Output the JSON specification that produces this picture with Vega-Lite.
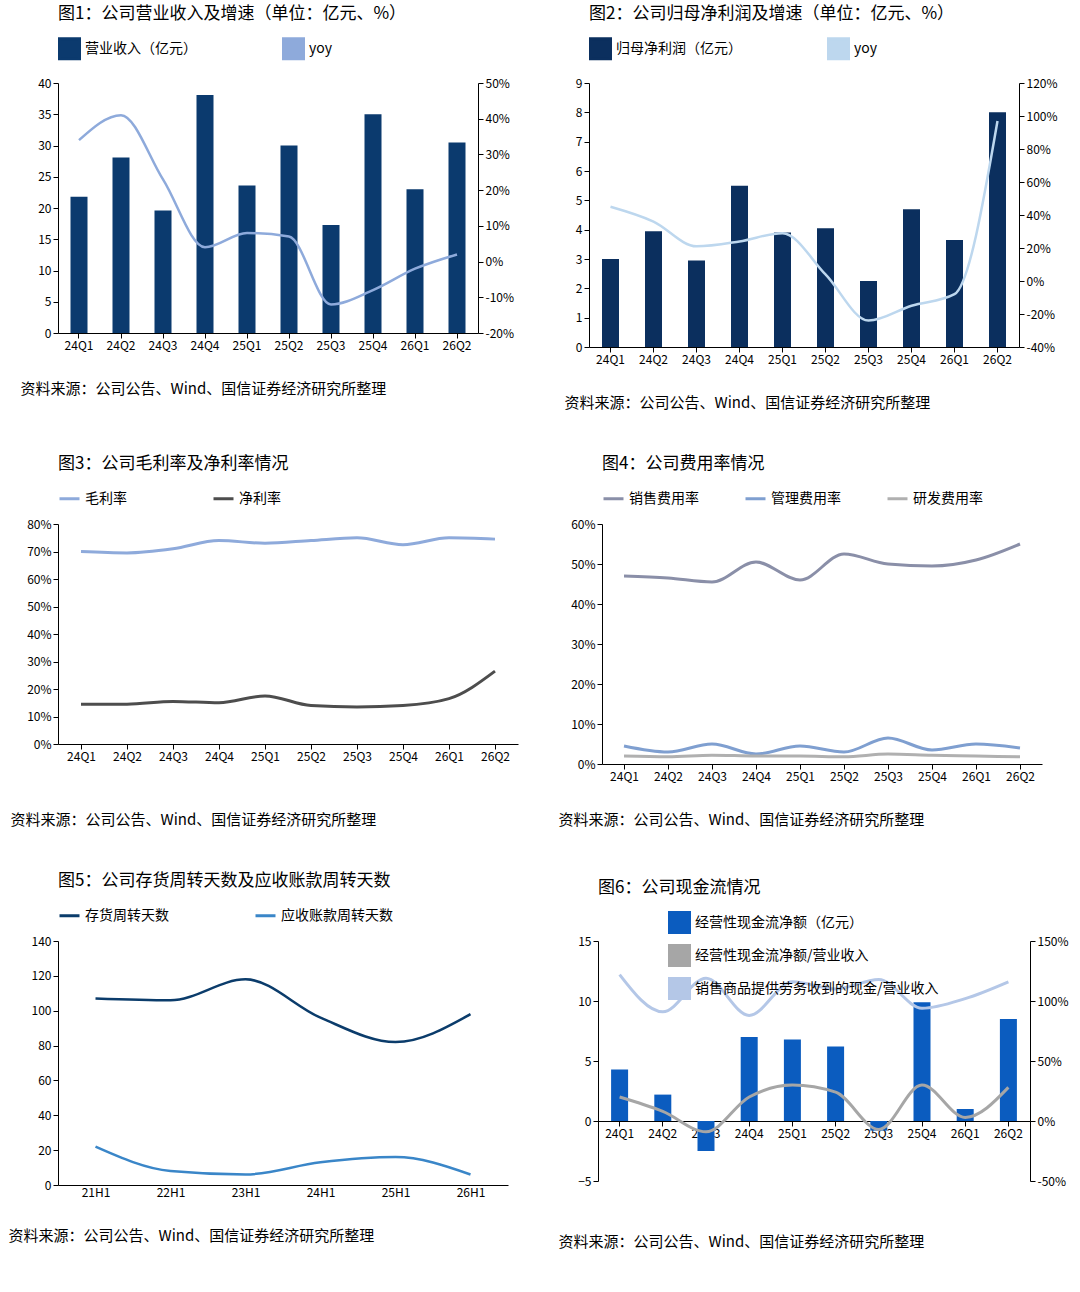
{
"$schema":"https://vega.github.io/schema/vega-lite/v6.json",
"background":"white",
"padding":{"left":8,"top":5,"right":5,"bottom":5},
"config":{"font":"Noto Sans CJK SC","view":{"stroke":null},
 "axis":{"grid":false,"domainColor":"#000","tickColor":"#000","labelColor":"#000","labelFontSize":12,"labelFont":"Noto Sans CJK SC","titleFontWeight":"normal","titleFontSize":15},
 "legend":{"orient":"top","direction":"horizontal","labelFontSize":14,"title":null,"columnPadding":80,"symbolStrokeWidth":3,"symbolSize":400},
 "title":{"anchor":"start","frame":"group","fontSize":17,"fontWeight":"normal","offset":14}},
"datasets":{
"q":[
{"q":"24Q1","rev":21.8,"ry":34,"np":3.0,"ny":45,"gm":70,"nm":14.5,"s":47,"a":4.5,"r":2.0,"cf":4.3,"c1":20,"c2":122},
{"q":"24Q2","rev":28.1,"ry":41,"np":3.95,"ny":36,"gm":69.5,"nm":14.5,"s":46.5,"a":3.0,"r":1.8,"cf":2.2,"c1":8,"c2":91},
{"q":"24Q3","rev":19.6,"ry":23,"np":2.95,"ny":21,"gm":71,"nm":15.5,"s":45.5,"a":5.0,"r":2.2,"cf":-2.5,"c1":-9,"c2":119},
{"q":"24Q4","rev":38.1,"ry":4,"np":5.5,"ny":24,"gm":74,"nm":15,"s":50.5,"a":2.5,"r":2.0,"cf":7.0,"c1":20,"c2":88},
{"q":"25Q1","rev":23.6,"ry":8,"np":3.9,"ny":29,"gm":73,"nm":17.5,"s":46,"a":4.5,"r":2.0,"cf":6.8,"c1":30,"c2":116},
{"q":"25Q2","rev":30.0,"ry":7,"np":4.05,"ny":4,"gm":74,"nm":14,"s":52.5,"a":3.0,"r":1.8,"cf":6.2,"c1":24,"c2":110},
{"q":"25Q3","rev":17.3,"ry":-12,"np":2.25,"ny":-24,"gm":75,"nm":13.5,"s":50,"a":6.5,"r":2.5,"cf":-0.8,"c1":-7,"c2":118},
{"q":"25Q4","rev":35.0,"ry":-8,"np":4.7,"ny":-15,"gm":72.5,"nm":14,"s":49.5,"a":3.5,"r":2.2,"cf":9.9,"c1":30,"c2":94},
{"q":"26Q1","rev":23.0,"ry":-2,"np":3.65,"ny":-8,"gm":75,"nm":16.5,"s":51,"a":5.0,"r":2.0,"cf":1.0,"c1":3,"c2":102},
{"q":"26Q2","rev":30.5,"ry":2,"np":8.0,"ny":97,"gm":74.5,"nm":26.5,"s":55,"a":4.0,"r":1.8,"cf":8.5,"c1":28,"c2":116}],
"h":[
{"h":"21H1","inv":107,"ar":22},{"h":"22H1","inv":106,"ar":8},{"h":"23H1","inv":118,"ar":6},
{"h":"24H1","inv":96,"ar":13},{"h":"25H1","inv":82,"ar":16},{"h":"26H1","inv":98,"ar":6}]},
"resolve":{"scale":{"color":"independent"},"legend":{"color":"independent"}},
"vconcat":[
{"resolve":{"scale":{"color":"independent"},"legend":{"color":"independent"}},
"hconcat":[
{"width":420,"height":250,"data":{"name":"q"},
 "title":"图1：公司营业收入及增速（单位：亿元、%）",
 "encoding":{"x":{"field":"q","type":"ordinal","sort":null,"axis":{"labelAngle":0,"title":"资料来源：公司公告、Wind、国信证券经济研究所整理","titleAnchor":"start","titleX":-38,"titlePadding":30}}},
 "layer":[
  {"mark":{"type":"bar","width":17},"encoding":{"y":{"field":"rev","type":"quantitative","scale":{"domain":[0,40]},"axis":{"title":null,"tickCount":8}},
   "color":{"datum":"营业收入（亿元）","scale":{"domain":["营业收入（亿元）","yoy"],"range":["#0b3a6e","#8eaadb"]}}}},
  {"mark":{"type":"line","interpolate":"monotone","strokeWidth":2.5},"encoding":{"y":{"field":"ry","type":"quantitative","scale":{"domain":[-20,50]},"axis":{"orient":"right","title":null,"tickCount":7,"labelExpr":"datum.value+'%'"}},"color":{"datum":"yoy"}}}],
 "resolve":{"scale":{"y":"independent"}}},
{"width":430,"height":264,"data":{"name":"q"},
 "title":"图2：公司归母净利润及增速（单位：亿元、%）",
 "encoding":{"x":{"field":"q","type":"ordinal","sort":null,"axis":{"labelAngle":0,"title":"资料来源：公司公告、Wind、国信证券经济研究所整理","titleAnchor":"start","titleX":-25,"titlePadding":30}}},
 "layer":[
  {"mark":{"type":"bar","width":17},"encoding":{"y":{"field":"np","type":"quantitative","scale":{"domain":[0,9]},"axis":{"title":null,"tickCount":9}},
   "color":{"datum":"归母净利润（亿元）","scale":{"domain":["归母净利润（亿元）","yoy"],"range":["#0b2f5e","#bdd7ee"]}}}},
  {"mark":{"type":"line","interpolate":"monotone","strokeWidth":2.5},"encoding":{"y":{"field":"ny","type":"quantitative","scale":{"domain":[-40,120]},"axis":{"orient":"right","title":null,"tickCount":8,"labelExpr":"datum.value+'%'"}},"color":{"datum":"yoy"}}}],
 "resolve":{"scale":{"y":"independent"}}}
],"spacing":50},
{"resolve":{"scale":{"color":"independent"},"legend":{"color":"independent"}},
"hconcat":[
{"width":460,"height":220,"data":{"name":"q"},
 "title":"图3：公司毛利率及净利率情况",
 "encoding":{"x":{"field":"q","type":"ordinal","sort":null,"axis":{"labelAngle":0,"title":"资料来源：公司公告、Wind、国信证券经济研究所整理","titleAnchor":"start","titleX":-48,"titlePadding":50}}},
 "layer":[
  {"mark":{"type":"line","interpolate":"monotone","strokeWidth":3},"encoding":{"y":{"field":"gm","type":"quantitative","scale":{"domain":[0,80]},"axis":{"title":null,"tickCount":8,"labelExpr":"datum.value+'%'"}},
   "color":{"datum":"毛利率","scale":{"domain":["毛利率","净利率"],"range":["#8eaadb","#4d4d4d"]},"legend":{"symbolType":"stroke"}}}},
  {"mark":{"type":"line","interpolate":"monotone","strokeWidth":3},"encoding":{"y":{"field":"nm","type":"quantitative"},"color":{"datum":"净利率"}}}]},
{"width":440,"height":240,"data":{"name":"q"},
 "title":"图4：公司费用率情况",
 "encoding":{"x":{"field":"q","type":"ordinal","sort":null,"axis":{"labelAngle":0,"title":"资料来源：公司公告、Wind、国信证券经济研究所整理","titleAnchor":"start","titleX":-44,"titlePadding":30}}},
 "layer":[
  {"mark":{"type":"line","interpolate":"monotone","strokeWidth":3},"encoding":{"y":{"field":"s","type":"quantitative","scale":{"domain":[0,60]},"axis":{"title":null,"tickCount":6,"labelExpr":"datum.value+'%'"}},
   "color":{"datum":"销售费用率","scale":{"domain":["销售费用率","管理费用率","研发费用率"],"range":["#8a8fa8","#7f9fd0","#b0b0b0"]},"legend":{"symbolType":"stroke","columnPadding":40}}}},
  {"mark":{"type":"line","interpolate":"monotone","strokeWidth":3},"encoding":{"y":{"field":"a","type":"quantitative"},"color":{"datum":"管理费用率"}}},
  {"mark":{"type":"line","interpolate":"monotone","strokeWidth":3},"encoding":{"y":{"field":"r","type":"quantitative"},"color":{"datum":"研发费用率"}}}]}
],"spacing":40},
{"resolve":{"scale":{"color":"independent"},"legend":{"color":"independent"}},
"hconcat":[
{"width":450,"height":244,"data":{"name":"h"},
 "title":"图5：公司存货周转天数及应收账款周转天数",
 "encoding":{"x":{"field":"h","type":"ordinal","sort":null,"axis":{"labelAngle":0,"ticks":false,"title":"资料来源：公司公告、Wind、国信证券经济研究所整理","titleAnchor":"start","titleX":-50,"titlePadding":30}}},
 "layer":[
  {"mark":{"type":"line","interpolate":"monotone","strokeWidth":2.5},"encoding":{"y":{"field":"inv","type":"quantitative","scale":{"domain":[0,140]},"axis":{"title":null,"tickCount":7}},
   "color":{"datum":"存货周转天数","scale":{"domain":["存货周转天数","应收账款周转天数"],"range":["#0b3c6b","#3a86c8"]},"legend":{"symbolType":"stroke"}}}},
  {"mark":{"type":"line","interpolate":"monotone","strokeWidth":2.5},"encoding":{"y":{"field":"ar","type":"quantitative"},"color":{"datum":"应收账款周转天数"}}}]},
{"width":432,"height":240,"data":{"name":"q"},
 "title":"图6：公司现金流情况",
 "encoding":{"x":{"field":"q","type":"ordinal","sort":null,"axis":{"labelAngle":0,"offset":-60,"title":"资料来源：公司公告、Wind、国信证券经济研究所整理","titleAnchor":"start","titleX":-40,"titlePadding":95}}},
 "layer":[
  {"mark":{"type":"bar","width":17},"encoding":{"y":{"field":"cf","type":"quantitative","scale":{"domain":[-5,15]},"axis":{"title":null,"tickCount":4}},
   "color":{"datum":"经营性现金流净额（亿元）","scale":{"domain":["经营性现金流净额（亿元）","经营性现金流净额/营业收入","销售商品提供劳务收到的现金/营业收入"],"range":["#0b5cbf","#a6a6a6","#b4c7e7"]},"legend":{"direction":"vertical","orient":"none","legendY":-30,"legendX":70,"labelFontSize":14,"rowPadding":0,"labelLimit":400}}}},
  {"mark":{"type":"line","interpolate":"monotone","strokeWidth":3},"encoding":{"y":{"field":"c1","type":"quantitative","scale":{"domain":[-50,150]},"axis":{"orient":"right","title":null,"tickCount":4,"labelExpr":"datum.value+'%'"}},"color":{"datum":"经营性现金流净额/营业收入"}}},
  {"mark":{"type":"line","interpolate":"monotone","strokeWidth":3},"encoding":{"y":{"field":"c2","type":"quantitative","scale":{"domain":[-50,150]},"axis":null},"color":{"datum":"销售商品提供劳务收到的现金/营业收入"}}}],
 "resolve":{"scale":{"y":"independent"}}}
],"spacing":50}
],"spacing":45}
